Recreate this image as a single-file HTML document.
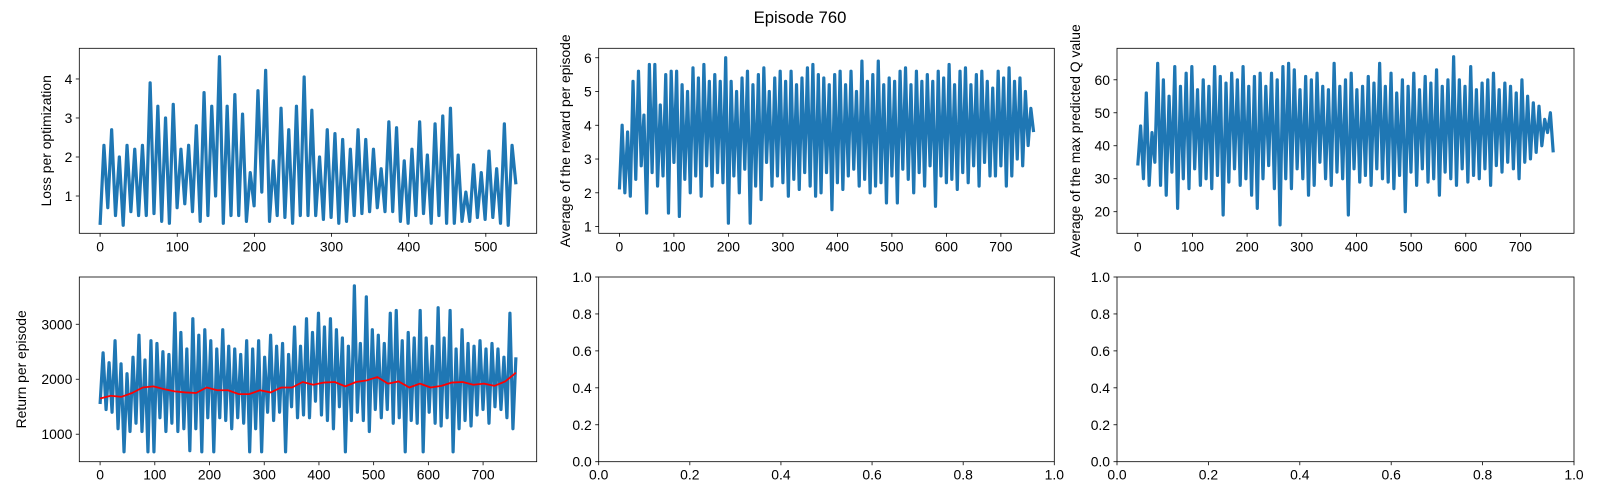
<!DOCTYPE html>
<html><head><meta charset="utf-8"><style>
html,body{margin:0;padding:0;background:#fff;}
svg{display:block;font-family:"Liberation Sans","DejaVu Sans",sans-serif;}
</style></head><body>
<svg id="fig" width="1600" height="500" viewBox="0 0 1600 500" xmlns="http://www.w3.org/2000/svg">
<rect width="1600" height="500" fill="#fff"/>
<text x="800" y="23" font-size="16.7" text-anchor="middle" fill="#000">Episode 760</text>
</svg>
<script>
// ---- data ----
const lossValues = [0.26,2.3,0.7,2.7,0.5,2.0,0.25,2.3,0.6,2.2,0.5,2.3,0.5,3.9,0.55,3.3,0.35,3.0,0.3,3.35,0.7,2.2,0.8,2.3,0.6,2.8,0.35,3.65,0.5,3.3,1.0,4.57,0.3,3.3,0.5,3.6,0.5,3.1,0.35,1.6,0.75,3.7,1.1,4.22,0.35,1.9,0.5,3.25,0.45,2.7,0.3,3.3,0.5,4.05,0.5,3.2,0.5,2.0,0.4,2.7,0.45,2.6,0.3,2.45,0.35,2.2,0.5,2.7,0.55,2.45,0.6,2.2,0.7,1.7,0.6,2.9,0.6,2.75,0.35,1.9,0.3,2.2,0.5,2.9,0.55,2.05,0.3,2.85,0.5,3.05,0.3,3.25,0.3,2.05,0.35,1.1,0.35,1.8,0.45,1.6,0.4,2.15,0.45,1.7,0.3,2.85,0.25,2.3,1.3];
const lossLastEpisode = 539;
const rewardValues = [2.1,4.0,2.0,3.8,1.9,5.3,2.4,5.6,2.8,4.3,1.4,5.8,2.6,5.8,2.2,4.6,2.5,5.5,1.4,5.6,2.9,5.6,1.3,5.2,2.4,5.0,2.0,5.7,2.5,5.4,1.9,5.8,2.8,5.3,2.2,5.5,2.6,5.3,2.3,6.0,1.1,5.3,2.5,5.0,2.0,5.4,2.7,5.6,1.1,5.2,2.2,5.5,1.8,5.7,2.9,5.0,2.2,5.4,2.5,5.6,2.3,5.3,1.9,5.6,2.4,5.2,2.1,5.4,2.6,5.7,2.2,5.8,1.9,5.5,2.0,5.4,2.6,5.2,1.5,5.5,2.3,5.6,2.1,5.2,2.5,5.6,2.7,5.0,2.2,5.9,2.4,5.3,2.0,5.5,2.2,5.9,2.3,5.2,1.7,5.4,2.5,5.3,1.7,5.6,2.7,5.7,2.4,5.2,2.0,5.6,2.6,5.3,2.2,5.5,2.8,5.3,1.6,5.6,2.5,5.4,2.3,5.8,2.4,5.2,2.1,5.6,2.6,5.7,2.3,5.2,2.8,5.5,2.2,5.6,2.9,5.3,2.5,5.1,2.5,5.6,2.8,5.4,2.2,5.7,2.5,5.3,3.0,5.4,2.8,5.0,3.4,4.5,3.8];
const qValues = [34,46,30,56,28,44,35,65,28,60,25,55,32,64,21,58,30,62,27,64,33,57,28,60,30,58,27,64,31,61,19,59,29,62,33,60,28,64,30,58,25,61,21,62,30,58,34,62,27,60,16,64,30,65,27,63,33,57,30,61,25,60,28,62,35,58,30,57,28,65,32,58,30,60,19,62,33,57,29,58,31,61,28,59,33,65,30,58,29,62,27,56,31,60,20,58,32,62,28,57,33,61,29,59,30,63,25,58,32,60,30,67,28,60,33,58,29,64,31,57,30,59,33,60,28,62,34,57,32,59,35,58,33,56,30,60,35,55,36,53,38,52,40,48,44,50,38];
const returnValues = [1550,2480,1450,2300,1400,2700,1100,2280,680,2100,1050,2400,1200,2800,1050,2350,680,2700,680,2650,1300,2500,1050,2450,1200,3200,1050,2850,1100,2550,700,3100,1100,2800,680,2900,1300,2700,680,2550,1300,2900,1250,2600,1100,2550,1300,2450,1200,2700,680,2550,1100,2700,680,2400,1400,2800,1250,2600,1400,2650,680,2450,1500,2950,1300,2600,1350,3100,1300,2850,1600,3200,1350,2950,1250,3100,1100,2900,1500,2750,680,2600,1250,3700,1400,2650,1250,3500,1050,2900,1450,2800,1300,2650,1450,3200,1200,3250,1300,2700,680,2850,1250,2750,1200,3250,680,2750,1400,2600,1200,3300,1150,2750,1300,3250,680,2550,1100,2900,1250,2650,1150,2600,1350,2700,1450,2550,1200,2650,1500,2550,1450,2400,1300,3200,1100,2400];
const avgValues = [1650,1700,1680,1750,1850,1870,1820,1780,1760,1750,1850,1800,1800,1730,1730,1800,1760,1850,1850,1950,1900,1940,1950,1870,1950,1980,2040,1920,1960,1850,1920,1850,1880,1940,1950,1900,1920,1880,1960,2120];
const episodeLast = 760;
const xTicksLoss = [0,100,200,300,400,500];
const xTicksEp = [0,100,200,300,400,500,600,700];
const yTicksLoss = [1,2,3,4];
const yTicksReward = [1,2,3,4,5,6];
const yTicksQ = [20,30,40,50,60];
const yTicksReturn = [1000,2000,3000];
const unitTicks = [0,0.2,0.4,0.6,0.8,1.0];

const NS = "http://www.w3.org/2000/svg";
const svg = document.getElementById('fig');
function mk(tag, attrs, parent){const e=document.createElementNS(NS,tag);for(const k in attrs)e.setAttribute(k,attrs[k]);(parent||svg).appendChild(e);return e;}

function axes(name, box, xr, yr, xt, yt, fmtX, fmtY, ylabel, labelX){
  const g = mk('g',{});
  
  
  const sx = v => box.l + (v - xr[0])/(xr[1]-xr[0])*(box.r-box.l);
  const sy = v => box.b - (v - yr[0])/(yr[1]-yr[0])*(box.b-box.t);
  xt.forEach(v=>{
    const x=sx(v);
    const t=mk('line',{x1:x,x2:x,y1:box.b,y2:box.b+3.5,stroke:'#000','stroke-width':0.8},g);
    
    
    const l=mk('text',{x:x,y:box.b+18,'font-size':13.9,'text-anchor':'middle',fill:'#000'},g);
    l.textContent=fmtX(v);
    
    
  });
  yt.forEach(v=>{
    const y=sy(v);
    const t=mk('line',{x1:box.l-3.5,x2:box.l,y1:y,y2:y,stroke:'#000','stroke-width':0.8},g);
    
    
    const l=mk('text',{x:box.l-7,y:y+5,'font-size':13.9,'text-anchor':'end',fill:'#000'},g);
    l.textContent=fmtY(v);
    
    
  });
  if(ylabel){
    const cy=(box.t+box.b)/2;
    const l=mk('text',{x:labelX,y:cy,'font-size':13.9,'text-anchor':'middle',fill:'#000',transform:`rotate(-90 ${labelX} ${cy})`},g);
    l.textContent=ylabel;
    
    
  }
  return {g,sx,sy,box};
}
function frame(a){
  const b=a.box;
  const r=mk('rect',{x:b.l,y:b.t,width:b.r-b.l,height:b.b-b.t,fill:'none',stroke:'#000','stroke-width':0.8},a.g);
  
  
}
function line(a, vals, last, color, name, w){
  const n=vals.length;
  const pts=vals.map((v,i)=>a.sx(i*last/(n-1)).toFixed(2)+','+a.sy(v).toFixed(2)).join(' ');
  const p=mk('polyline',{points:pts,fill:'none',stroke:color,'stroke-width':w||1.5,'stroke-linejoin':'round'},a.g);
  
  
}
const int = v=>String(v);
const f1 = v=>v.toFixed(1);
const row1={t:48.3,b:233.3}, row2={t:277,b:461.7};
const cols=[{l:79.3,r:536.7},{l:598.7,r:1054.3},{l:1117,r:1574}];
const epR=[-38,798];

const a1=axes('loss-chart',{...cols[0],...row1},[-26.95,565.95],[0.044,4.786],xTicksLoss,yTicksLoss,int,int,'Loss per optimization',51);
line(a1,lossValues,lossLastEpisode,'#1f77b4','loss-line',3.2);frame(a1);

const a2=axes('reward-chart',{...cols[1],...row1},epR,[0.8,6.28],xTicksEp,yTicksReward,int,int,'Average of the reward per episode',570);
line(a2,rewardValues,episodeLast,'#1f77b4','reward-line',3.2);frame(a2);

const a3=axes('q-value-chart',{...cols[2],...row1},epR,[13.45,69.55],xTicksEp,yTicksQ,int,int,'Average of the max predicted Q value',1080);
line(a3,qValues,episodeLast,'#1f77b4','q-value-line',3.2);frame(a3);

const a4=axes('return-chart',{...cols[0],...row2},epR,[500,3860],xTicksEp,yTicksReturn,int,int,'Return per episode',26);
line(a4,returnValues,episodeLast,'#1f77b4','return-line',3.2);
line(a4,avgValues,episodeLast,'#ff0000','return-moving-average',1.8);frame(a4);

const a5=axes('empty-chart-1',{...cols[1],...row2},[0,1],[0,1],unitTicks,unitTicks,f1,f1,null,0);frame(a5);
const a6=axes('empty-chart-2',{...cols[2],...row2},[0,1],[0,1],unitTicks,unitTicks,f1,f1,null,0);frame(a6);
</script>
</body></html>
